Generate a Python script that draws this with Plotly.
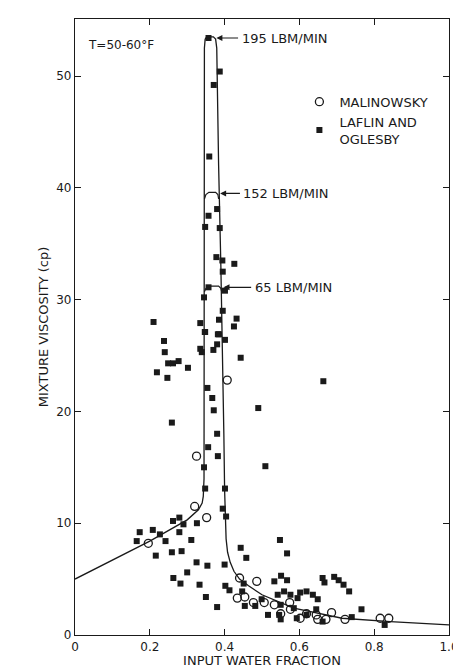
import plotly.graph_objects as go

lo_x = [0.357,0.387,0.371,0.359,0.380,0.357,0.348,0.387,0.378,0.394,0.426,0.395,0.357,0.401,0.345,0.395,0.210,0.335,0.385,0.432,0.425,0.348,0.385,
 0.238,0.347,0.382,0.401,0.240,0.335,0.339,0.370,0.380,0.249,0.262,0.277,0.302,0.219,0.247,0.443,0.664,0.354,0.367,0.371,0.490,0.259,0.380,0.356,0.382,0.509,0.345,0.348,0.401,0.395,0.404,
 0.173,0.208,0.165,0.227,0.262,0.279,0.290,0.326,0.279,0.242,0.311,0.216,0.259,0.285,0.325,0.354,0.400,0.300,0.263,0.282,0.333,0.350,0.380,0.402,0.413,0.443,0.458,0.548,0.567,
 0.451,0.447,0.454,0.482,0.499,0.516,0.533,0.551,0.567,0.542,0.550,0.546,0.559,0.576,0.585,0.595,0.602,0.619,0.636,0.649,0.662,0.667,0.693,0.705,0.718,0.733,0.593,0.619,0.645,0.662,0.740,0.766,0.828,0.550]
lo_y = [53.4,50.4,49.2,42.8,38.1,37.5,36.5,36.4,33.8,33.5,33.2,32.5,31.1,30.8,30.2,29.0,28.0,27.9,28.2,28.3,27.6,27.1,26.9,
 26.3,27.1,26.9,26.4,25.3,25.6,25.3,25.5,26.0,24.3,24.3,24.5,23.9,23.5,23.0,24.8,22.7,22.1,21.2,20.1,20.3,19.0,18.0,16.8,16.0,15.1,15.0,13.1,13.1,11.3,10.6,
 9.2,9.4,8.4,9.0,10.2,10.5,9.9,10.0,9.2,8.4,8.5,7.1,7.4,7.5,6.5,6.2,6.3,5.6,5.1,4.6,4.5,3.4,2.5,4.4,4.0,7.8,6.9,8.5,7.3,
 4.6,3.9,2.6,2.6,3.2,1.8,4.8,5.3,4.9,3.6,2.7,1.8,3.9,3.6,2.4,3.3,3.8,3.9,3.6,3.2,5.1,4.7,5.2,4.9,4.5,3.9,1.5,1.8,2.3,1.2,1.6,2.3,0.9,1.4]

mal_x = [0.407,0.325,0.320,0.352,0.196,0.440,0.486,0.454,0.434,0.477,0.506,0.533,0.574,0.576,0.550,0.619,0.645,0.649,0.671,0.686,0.722,0.816,0.839,0.602]
mal_y = [22.8,16.0,11.5,10.5,8.2,5.1,4.8,3.4,3.3,2.9,2.9,2.7,2.9,2.3,1.9,1.9,1.8,1.4,1.4,2.0,1.4,1.5,1.5,1.5]

curve_x = [0.0,0.1,0.2,0.3,0.330,0.340,0.343,0.345,0.345,0.346,0.348,0.352,0.370,0.376,0.379,0.380,0.384,0.390,0.395,0.398,0.400,0.401,0.402,0.404,0.408,0.415,0.425,0.440,0.464,0.500,0.585,0.714,0.843,1.0]
curve_y = [5.0,6.7,8.4,10.3,11.2,11.8,12.4,14.0,30.0,52.5,53.3,53.5,53.5,53.3,52.5,50.0,42.0,33.0,25.0,18.0,13.0,11.0,9.8,8.6,7.4,6.5,5.7,5.0,4.4,3.6,2.4,1.5,1.2,0.9]
cap152_x = [0.346,0.350,0.358,0.366,0.376,0.382,0.384]
cap152_y = [39.0,39.4,39.6,39.6,39.6,39.4,39.0]
cap65_x = [0.346,0.350,0.360,0.372,0.384,0.390,0.393]
cap65_y = [30.7,31.0,31.2,31.2,31.2,31.0,30.6]

labels = ["195 LBM/MIN", "152 LBM/MIN", "65 LBM/MIN"]
label_x = [0.378, 0.388, 0.397]
label_y = [53.4, 39.5, 31.1]
text_x = [0.44, 0.445, 0.475]

ink = "#1a1a1a"
fig = go.Figure()
fig.add_trace(go.Scatter(x=curve_x, y=curve_y, mode="lines", line=dict(color=ink, width=1.3), showlegend=False))
for cx, cy in [(cap152_x, cap152_y), (cap65_x, cap65_y)]:
    fig.add_trace(go.Scatter(x=cx, y=cy, mode="lines", line=dict(color=ink, width=1.2), showlegend=False))
fig.add_trace(go.Scatter(x=mal_x, y=mal_y, mode="markers", name="MALINOWSKY",
    marker=dict(symbol="circle-open", size=8, color=ink, line=dict(width=1.3))))
fig.add_trace(go.Scatter(x=lo_x, y=lo_y, mode="markers", name="LAFLIN AND<br>OGLESBY",
    marker=dict(symbol="square", size=6, color=ink)))

for t, lx, ly, tx in zip(labels, label_x, label_y, text_x):
    fig.add_annotation(x=lx, y=ly, ax=tx, ay=ly, axref="x", ayref="y", text="", showarrow=True,
                       arrowhead=2, arrowsize=1, arrowwidth=1.2, arrowcolor=ink, standoff=0)
    fig.add_annotation(x=tx, y=ly, text=t, showarrow=False, xanchor="left", font=dict(size=13, color=ink))
fig.add_annotation(x=0.03, y=52.8, text="T=50-60°F", showarrow=False, xanchor="left", font=dict(size=12, color=ink))

ax = dict(showline=True, linecolor=ink, linewidth=1.2, mirror="ticks", ticks="inside", ticklen=6,
          tickcolor=ink, showgrid=False, zeroline=False, tickfont=dict(size=12, color=ink))
fig.update_xaxes(range=[0, 1.0], tickvals=[0,0.2,0.4,0.6,0.8,1.0], ticktext=["0","0.2","0.4","0.6","0.8","1.0"],
                 title=dict(text="INPUT WATER FRACTION", font=dict(size=13, color=ink), standoff=2), **ax)
fig.update_yaxes(range=[0, 55.1], tickvals=[0,10,20,30,40,50],
                 title=dict(text="MIXTURE VISCOSITY (cp)", font=dict(size=13, color=ink), standoff=4), **ax)
fig.update_layout(width=461, height=667, margin=dict(l=67, r=12, t=10, b=40),
                  paper_bgcolor="white", plot_bgcolor="white",
                  font=dict(family="DejaVu Sans", color=ink),
                  legend=dict(x=0.6, y=0.89, xanchor="left", yanchor="top", bgcolor="rgba(0,0,0,0)",
                              font=dict(size=13, color=ink), itemwidth=30))
fig.write_html("out.html")
